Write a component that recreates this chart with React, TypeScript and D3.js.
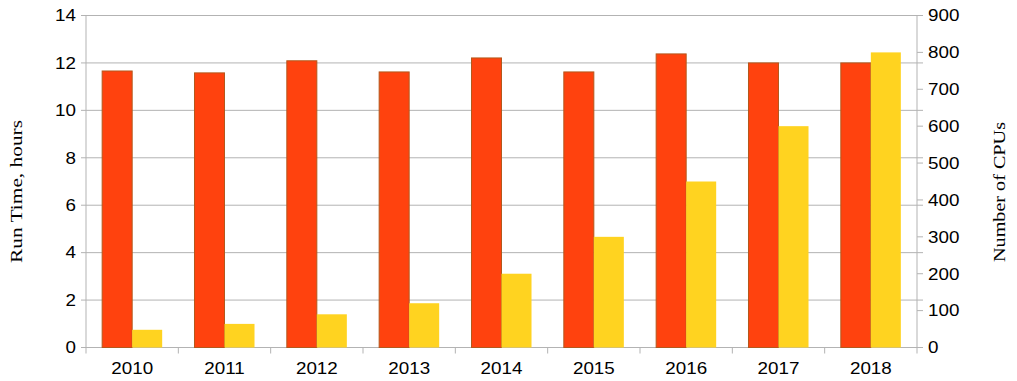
import React from "react";
import * as d3 from "d3";

const years = ["2010", "2011", "2012", "2013", "2014", "2015", "2016", "2017", "2018"];
const runTimeHours = [11.66, 11.58, 12.09, 11.62, 12.21, 11.62, 12.38, 12.0, 12.0];
const cpuCounts = [48, 64, 90, 120, 200, 300, 450, 600, 800];
const leftTicks = [0, 2, 4, 6, 8, 10, 12, 14];
const rightTicks = [0, 100, 200, 300, 400, 500, 600, 700, 800, 900];

const W = 1017;
const H = 381;
const M = { left: 86, right: 917, top: 15.5, bottom: 347.5 };

export default function App() {
  const x = d3.scaleBand<string>().domain(years).range([M.left, M.right]).paddingInner(0).paddingOuter(0);
  const yL = d3.scaleLinear().domain([0, 14]).range([M.bottom, M.top]);
  const yR = d3.scaleLinear().domain([0, 900]).range([M.bottom, M.top]);
  const bw = x.bandwidth();
  const barW = bw * 0.325;
  const groupOff = (bw - barW * 2) / 2;
  const sans = "'Liberation Sans', Arial, sans-serif";
  const serif = "'Liberation Serif', 'Times New Roman', serif";
  const grid = "#b3b3b3";
  const fs = 16.5;
  const sx = 1.14;

  return (
    <svg width={W} height={H} style={{ position: "absolute", left: 0, top: 0, background: "#fff" }}>
      {leftTicks.map((t) => (
        <line key={"g" + t} x1={M.left - 5} x2={M.right + 6} y1={yL(t)} y2={yL(t)} stroke={grid} strokeWidth={1} />
      ))}
      {rightTicks.map((t) => (
        <line key={"rt" + t} x1={M.right} x2={M.right + 6} y1={yR(t)} y2={yR(t)} stroke={grid} strokeWidth={1} />
      ))}
      <line x1={M.left} x2={M.left} y1={M.top} y2={M.bottom} stroke={grid} />
      <line x1={M.right} x2={M.right} y1={M.top} y2={M.bottom} stroke={grid} />
      {years.map((y) => (
        <line key={"bt" + y} x1={x(y) as number} x2={x(y) as number} y1={M.bottom} y2={M.bottom + 6} stroke={grid} />
      ))}
      <line x1={M.right} x2={M.right} y1={M.bottom} y2={M.bottom + 6} stroke={grid} />
      {years.map((y, i) => {
        const x0 = (x(y) as number) + groupOff;
        return (
          <g key={"b" + y}>
            <rect
              x={x0}
              y={yL(runTimeHours[i])}
              width={barW}
              height={yL(0) - yL(runTimeHours[i])}
              fill="#ff420e"
              stroke="#b4581c"
              strokeWidth={1}
            />
            <rect
              x={x0 + barW}
              y={yR(cpuCounts[i])}
              width={barW}
              height={yR(0) - yR(cpuCounts[i])}
              fill="#ffd320"
            />
          </g>
        );
      })}
      {leftTicks.map((t) => (
        <text
          key={"lt" + t}
          transform={`translate(${M.left - 10},${yL(t)}) scale(${sx},1)`}
          dy="0.35em"
          textAnchor="end"
          fontFamily={sans}
          fontSize={fs}
          fill="#000"
        >
          {t}
        </text>
      ))}
      {rightTicks.map((t) => (
        <text
          key={"rl" + t}
          transform={`translate(${M.right + 11},${yR(t)}) scale(${sx},1)`}
          dy="0.35em"
          textAnchor="start"
          fontFamily={sans}
          fontSize={fs}
          fill="#000"
        >
          {t}
        </text>
      ))}
      {years.map((y) => (
        <text
          key={"cl" + y}
          transform={`translate(${(x(y) as number) + bw / 2},374) scale(${sx},1)`}
          textAnchor="middle"
          fontFamily={sans}
          fontSize={fs}
          fill="#000"
        >
          {y}
        </text>
      ))}
      <text
        transform={`translate(21.5,191.5) rotate(-90)`}
        textAnchor="middle"
        fontFamily={serif}
        fontSize={16.5}
        textLength={143}
        lengthAdjust="spacingAndGlyphs"
        fill="#000"
      >
        Run Time, hours
      </text>
      <text
        transform={`translate(1005,192) rotate(-90)`}
        textAnchor="middle"
        fontFamily={serif}
        fontSize={16.5}
        textLength={140}
        lengthAdjust="spacingAndGlyphs"
        fill="#000"
      >
        Number of CPUs
      </text>
    </svg>
  );
}
